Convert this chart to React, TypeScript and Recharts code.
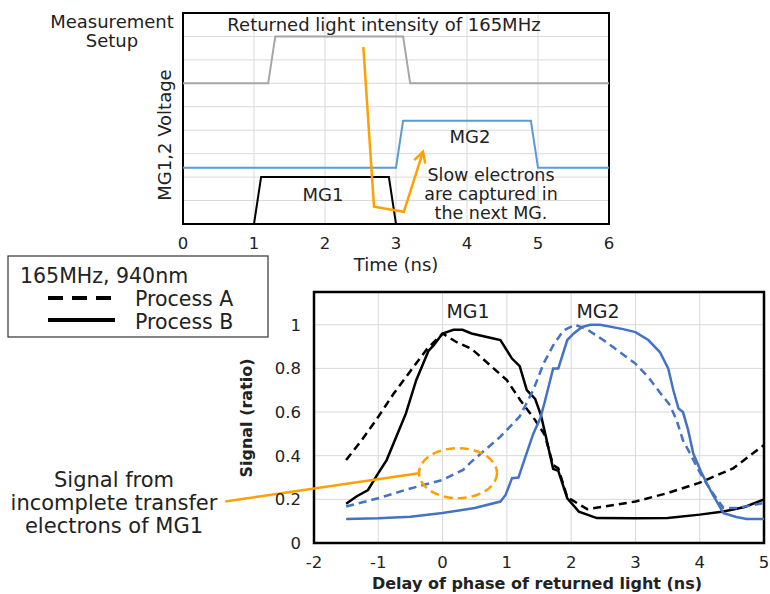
import {
  LineChart,
  Line,
  XAxis,
  YAxis,
  CartesianGrid,
  ReferenceArea,
  ReferenceDot,
  ReferenceLine,
} from "recharts";

/* ---------- top chart: gate timing (time in ns, arbitrary level) ---------- */
const TIME_TICKS = [0, 1, 2, 3, 4, 5, 6];
const LEVEL_TICKS = [0, 1, 2, 3, 4, 5, 6, 7, 8, 9];

const LIGHT_T = [0, 1.2, 1.3, 3.1, 3.2, 6];
const LIGHT_V = [6, 6, 8, 8, 6, 6];

const MG2_T = [0, 3.0, 3.1, 4.9, 5.0, 6];
const MG2_V = [2.4, 2.4, 4.4, 4.4, 2.4, 2.4];

const MG1_T = [1.0, 1.1, 2.9, 3.0];
const MG1_V = [0, 2, 2, 0];

const ARROW_T = [2.54, 2.69, 3.11, 3.38];
const ARROW_V = [7.55, 0.74, 0.52, 3.08];

/* ---------- bottom chart: signal vs delay ---------- */
const DELAY_TICKS = [-2, -1, 0, 1, 2, 3, 4, 5];
const SIGNAL_TICKS = [0, 0.2, 0.4, 0.6, 0.8, 1];

const A_MG1_X = [-1.5, -1.26, -1.0, -0.76, -0.53, -0.24, 0, 0.22, 0.45, 0.74, 1.0, 1.21, 1.44, 1.59, 1.72, 1.8, 1.94, 2.25, 3.0, 3.49, 3.98, 4.52, 5.0];
const A_MG1_Y = [0.38, 0.47, 0.578, 0.685, 0.776, 0.89, 0.96, 0.92, 0.89, 0.814, 0.746, 0.654, 0.563, 0.495, 0.357, 0.342, 0.21, 0.155, 0.19, 0.228, 0.274, 0.342, 0.449];

const B_MG1_X = [-1.5, -1.34, -1.16, -1.0, -0.87, -0.72, -0.57, -0.41, -0.22, -0.14, 0, 0.17, 0.31, 0.45, 0.74, 0.9, 1.08, 1.2, 1.31, 1.44, 1.53, 1.59, 1.72, 1.8, 1.94, 2.12, 2.4, 3.0, 3.5, 4.0, 4.37, 4.7, 5.0];
const B_MG1_Y = [0.18, 0.213, 0.243, 0.32, 0.38, 0.487, 0.594, 0.746, 0.88, 0.905, 0.96, 0.977, 0.977, 0.96, 0.94, 0.93, 0.845, 0.81, 0.7, 0.66, 0.586, 0.51, 0.34, 0.33, 0.205, 0.144, 0.114, 0.113, 0.115, 0.13, 0.144, 0.165, 0.2];

const A_MG2_X = [-1.5, -1.0, -0.5, 0, 0.32, 0.45, 0.9, 1.2, 1.41, 1.57, 1.72, 1.88, 2.06, 2.24, 2.5, 3.0, 3.2, 3.38, 3.54, 3.64, 3.74, 3.85, 3.98, 4.1, 4.24, 4.37, 4.57, 5.0];
const A_MG2_Y = [0.167, 0.205, 0.25, 0.289, 0.335, 0.373, 0.487, 0.58, 0.7, 0.822, 0.905, 0.974, 1.0, 0.98, 0.93, 0.822, 0.76, 0.69, 0.63, 0.563, 0.47, 0.41, 0.335, 0.274, 0.213, 0.16, 0.16, 0.183];

const B_MG2_X = [-1.5, -1.0, -0.5, 0, 0.5, 0.9, 0.98, 1.08, 1.18, 1.28, 1.41, 1.52, 1.59, 1.72, 1.8, 1.94, 2.04, 2.17, 2.3, 2.45, 2.81, 3.0, 3.2, 3.38, 3.51, 3.59, 3.67, 3.74, 3.82, 3.9, 4.03, 4.19, 4.37, 4.57, 4.73, 5.0];
const B_MG2_Y = [0.11, 0.113, 0.12, 0.137, 0.16, 0.19, 0.22, 0.297, 0.3, 0.388, 0.5, 0.571, 0.647, 0.8, 0.8, 0.93, 0.96, 0.99, 1.0, 1.0, 0.98, 0.966, 0.93, 0.875, 0.8, 0.7, 0.616, 0.6, 0.517, 0.41, 0.32, 0.228, 0.137, 0.119, 0.11, 0.11];

const FONT = '"DejaVu Sans", "Noto Sans", sans-serif';
const GRID = "#d9d9d9";
const ORANGE = "#ffa000";
const BLUE_TOP = "#5b9bd5";
const BLUE = "#4472c4";
const GRAY = "#a6a6a6";

const pts = (xs: number[], ys: number[]) => xs.map((x, i) => ({ x, y: ys[i] }));

/** Open V arrowhead drawn at the last point of the annotation line. */
function ArrowHead(props: any) {
  const { cx, cy, index, points } = props;
  if (index !== ARROW_T.length - 1 || cx == null) return <g key={`a${index}`} />;
  let ang = -1.26;
  if (points && points.length > 1) {
    const p = points[points.length - 2];
    ang = Math.atan2(cy - p.y, cx - p.x);
  }
  const len = 12;
  const spread = 0.5;
  const a1 = ang + Math.PI - spread;
  const a2 = ang + Math.PI + spread;
  return (
    <path
      key="arrowhead"
      d={`M${cx + len * Math.cos(a1)},${cy + len * Math.sin(a1)} L${cx},${cy} L${cx + len * Math.cos(a2)},${cy + len * Math.sin(a2)}`}
      stroke={ORANGE}
      strokeWidth={2.5}
      fill="none"
    />
  );
}

function TimingChart() {
  return (
    <LineChart
      width={770}
      height={594}
      margin={{ top: 13, right: 161, left: 183, bottom: 340 }}
      style={{ position: "absolute", left: 0, top: 0 }}
    >
      <CartesianGrid stroke={GRID} strokeWidth={1} />
      <XAxis
        type="number"
        dataKey="x"
        domain={[0, 6]}
        ticks={TIME_TICKS}
        height={30}
        axisLine={false}
        tickLine={false}
        tickSize={0}
        tickMargin={13}
        tick={{ fill: "#222", fontSize: 16.5 }}
      />
      <YAxis type="number" dataKey="y" domain={[0, 9]} ticks={LEVEL_TICKS} hide />
      <Line data={pts(LIGHT_T, LIGHT_V)} dataKey="y" stroke={GRAY} strokeWidth={2} dot={false} isAnimationActive={false} />
      <Line data={pts(MG2_T, MG2_V)} dataKey="y" stroke={BLUE_TOP} strokeWidth={2} dot={false} isAnimationActive={false} />
      <Line data={pts(MG1_T, MG1_V)} dataKey="y" stroke="#000" strokeWidth={2} dot={false} isAnimationActive={false} />
      <Line data={pts(ARROW_T, ARROW_V)} dataKey="y" stroke={ORANGE} strokeWidth={2.5} dot={ArrowHead} isAnimationActive={false} />
      <ReferenceArea x1={0} x2={6} y1={0} y2={9} fill="none" stroke="#000" strokeWidth={2} fillOpacity={0} ifOverflow="visible" />
    </LineChart>
  );
}

function SignalChart() {
  return (
    <LineChart
      width={770}
      height={594}
      margin={{ top: 292, right: 6, left: 274, bottom: 21 }}
      style={{ position: "absolute", left: 0, top: 0 }}
    >
      <CartesianGrid stroke={GRID} strokeWidth={1} />
      <XAxis
        type="number"
        dataKey="x"
        domain={[-2, 5]}
        ticks={DELAY_TICKS}
        height={30}
        axisLine={false}
        tickLine={false}
        tickSize={0}
        tickMargin={13}
        tick={{ fill: "#222", fontSize: 16.5 }}
      />
      <YAxis
        type="number"
        dataKey="y"
        domain={[0, 1.15]}
        ticks={SIGNAL_TICKS}
        width={40}
        axisLine={false}
        tickLine={false}
        tickSize={0}
        tickMargin={13}
        tick={{ fill: "#222", fontSize: 16.5 }}
      />
      <Line data={pts(A_MG1_X, A_MG1_Y)} dataKey="y" stroke="#000" strokeWidth={2.5} strokeDasharray="8 5" dot={false} isAnimationActive={false} />
      <Line data={pts(B_MG1_X, B_MG1_Y)} dataKey="y" stroke="#000" strokeWidth={2.5} dot={false} isAnimationActive={false} />
      <Line data={pts(A_MG2_X, A_MG2_Y)} dataKey="y" stroke={BLUE} strokeWidth={2.5} strokeDasharray="8 5" dot={false} isAnimationActive={false} />
      <Line data={pts(B_MG2_X, B_MG2_Y)} dataKey="y" stroke={BLUE} strokeWidth={2.5} dot={false} isAnimationActive={false} />
      <ReferenceDot
        x={0.24}
        y={0.32}
        ifOverflow="visible"
        shape={(p: any) => (
          <ellipse cx={p.cx} cy={p.cy} rx={39} ry={25} fill="none" stroke={ORANGE} strokeWidth={2.5} strokeDasharray="9 5" />
        )}
      />
      <ReferenceLine
        segment={[
          { x: -3.38, y: 0.19 },
          { x: -0.37, y: 0.32 },
        ]}
        stroke={ORANGE}
        strokeWidth={2.5}
        ifOverflow="visible"
      />
      <ReferenceArea x1={-2} x2={5} y1={0} y2={1.15} fill="none" fillOpacity={0} stroke="#000" strokeWidth={2.5} ifOverflow="visible" />
    </LineChart>
  );
}

function Annotations() {
  const t = { fill: "#222", fontFamily: FONT } as const;
  return (
    <svg width={770} height={594} style={{ position: "absolute", left: 0, top: 0, pointerEvents: "none" }}>
      {/* top chart */}
      <text x={112} y={28} textAnchor="middle" fontSize={18} {...t}>Measurement</text>
      <text x={112} y={47} textAnchor="middle" fontSize={18} {...t}>Setup</text>
      <text x={384} y={31} textAnchor="middle" fontSize={18} {...t}>Returned light intensity of 165MHz</text>
      <text x={470} y={143} textAnchor="middle" fontSize={18} {...t}>MG2</text>
      <text x={323} y={201} textAnchor="middle" fontSize={18} {...t}>MG1</text>
      <text x={491} y={181} textAnchor="middle" fontSize={17.5} {...t}>Slow electrons</text>
      <text x={491} y={200} textAnchor="middle" fontSize={17.5} {...t}>are captured in</text>
      <text x={491} y={219} textAnchor="middle" fontSize={17.5} {...t}>the next MG.</text>
      <text transform="translate(171,135) rotate(-90)" textAnchor="middle" fontSize={18} {...t}>MG1,2 Voltage</text>
      <text x={396} y={271} textAnchor="middle" fontSize={18} {...t}>Time (ns)</text>

      {/* legend */}
      <rect x={8} y={256} width={260} height={81} fill="#fff" stroke="#333" strokeWidth={1.2} />
      <text x={20} y={283} fontSize={20.5} {...t}>165MHz, 940nm</text>
      <line x1={48} y1={298} x2={115} y2={298} stroke="#000" strokeWidth={4} strokeDasharray="15 9" />
      <text x={135} y={306} fontSize={20.5} {...t}>Process A</text>
      <line x1={48} y1={320} x2={115} y2={320} stroke="#000" strokeWidth={4} />
      <text x={135} y={329} fontSize={20.5} {...t}>Process B</text>

      {/* bottom chart */}
      <text x={468} y={318} textAnchor="middle" fontSize={19} {...t}>MG1</text>
      <text x={598} y={318} textAnchor="middle" fontSize={19} {...t}>MG2</text>
      <text transform="translate(252,418) rotate(-90)" textAnchor="middle" fontSize={16} fontWeight="bold" {...t}>Signal (ratio)</text>
      <text x={537} y={589} textAnchor="middle" fontSize={16} fontWeight="bold" {...t}>Delay of phase of returned light (ns)</text>
      <text x={114} y={487} textAnchor="middle" fontSize={21} {...t}>Signal from</text>
      <text x={114} y={510} textAnchor="middle" fontSize={21} {...t}>incomplete transfer</text>
      <text x={114} y={533} textAnchor="middle" fontSize={21} {...t}>electrons of MG1</text>
    </svg>
  );
}

export default function App() {
  return (
    <div
      style={{
        position: "absolute",
        left: 0,
        top: 0,
        width: 770,
        height: 594,
        background: "#fff",
        fontFamily: FONT,
        overflow: "hidden",
      }}
    >
      <TimingChart />
      <SignalChart />
      <Annotations />
    </div>
  );
}
